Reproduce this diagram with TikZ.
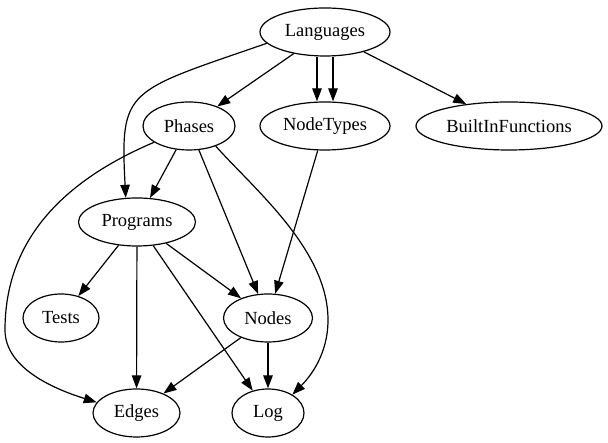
\documentclass[tikz,border=0pt]{standalone}
\usepackage{fontspec}
\setmainfont{Liberation Serif}
\usetikzlibrary{shapes.geometric, arrows.meta}

\tikzset{
  ent/.style={draw, ellipse, line width=1.2pt, inner sep=0pt, minimum height=48pt,
    font=\fontsize{18.5}{22}\selectfont},
  link/.style={-{Triangle[length=13pt, width=9.5pt]}, line width=1.2pt}
}

\begin{document}
\begin{tikzpicture}[x=1pt, y=1pt]
  \useasboundingbox (0,0) rectangle (608,443);
  % nodes
  \node[ent, minimum width=130pt] (lang)    at (325,411)   {Languages};
  \node[ent, minimum width=92pt]  (phases)  at (189,317)   {Phases};
  \node[ent, minimum width=130pt] (types)   at (325,317)   {NodeTypes};
  \node[ent, minimum width=186pt] (builtin) at (509,317)   {BuiltInFunctions};
  \node[ent, minimum width=117pt] (progs)   at (137,221)   {Programs};
  \node[ent, minimum width=76pt]  (tests)   at (61,125)    {Tests};
  \node[ent, minimum width=89pt]  (nodes)   at (268,125)   {Nodes};
  \node[ent, minimum width=87pt]  (edges)   at (136.5,30)  {Edges};
  \node[ent, minimum width=72pt]  (log)     at (268,30)    {Log};
  % edges
  \draw[link] (lang) -- (phases);
  \draw[link] ([xshift=-8pt]lang.south) -- ([xshift=-8pt]types.north);
  \draw[link] ([xshift=8pt]lang.south) -- ([xshift=8pt]types.north);
  \draw[link] (lang) -- (builtin);
  \draw[link] (lang.191) .. controls (126,351) and (120,355) .. (progs.115);
  \draw[link] (phases) -- (progs);
  \draw[link] (phases) -- (nodes);
  \draw[link] (phases.323) .. controls (255,253) and (328,193) .. (328,123)
    .. controls (328,88) and (309.5,65.7) .. (log.37);
  \draw[link] (phases.205) .. controls (63,262) and (5,203) .. (5,113)
    .. controls (5,73) and (59,52.5) .. (edges.165);
  \draw[link] (types) -- (nodes);
  \draw[link] (progs) -- (tests);
  \draw[link] (progs) -- (nodes);
  \draw[link] (progs) -- (edges);
  \draw[link] (progs) -- (log);
  \draw[link] (nodes) -- (edges);
  \draw[link] (nodes) -- (log);
\end{tikzpicture}
\end{document}
